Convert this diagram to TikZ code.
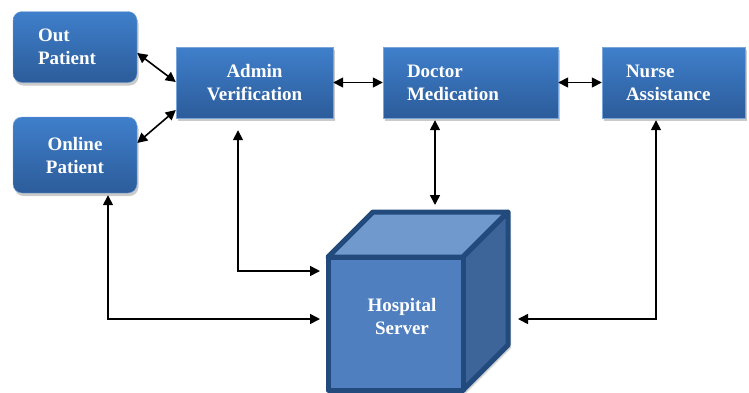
\documentclass[tikz,border=0pt]{standalone}
\usepackage{fontspec}
\setmainfont{Liberation Serif}
\usetikzlibrary{arrows.meta,shadows}
\definecolor{boxtop}{HTML}{3F7FCB}
\definecolor{boxbot}{HTML}{2C5C9A}
\definecolor{cubeedge}{HTML}{234A7C}
\definecolor{cubefront}{HTML}{4F7FBE}
\definecolor{cubetopc}{HTML}{7099CE}
\definecolor{cuberight}{HTML}{3E6599}
\tikzset{
  bluebox/.style={rectangle, top color=boxtop, bottom color=boxbot, draw=boxtop!70!white, line width=0.4pt,
    text=white, font=\fontsize{19}{23}\selectfont\bfseries, inner ysep=0pt,
    drop shadow={shadow xshift=1.5pt, shadow yshift=-3pt, opacity=0.35, fill=black!60}},
  patbox/.style={bluebox, rounded corners=9pt},
  arr/.style={line width=1.6pt, {Triangle[length=10pt,width=10pt]}-{Triangle[length=10pt,width=10pt]}},
  cubeface/.style={draw=cubeedge, line width=5pt, line join=round},
  servtext/.style={text=white, font=\fontsize{19}{23}\selectfont\bfseries, align=center}
}
\begin{document}
\begin{tikzpicture}[x=1pt,y=-1pt]
\useasboundingbox (0,0) rectangle (749,392);
% boxes
\node[patbox, minimum width=124pt, minimum height=71pt, text width=74pt, inner xsep=25pt, align=left] (outp) at (75,47) {Out\\Patient};
\node[patbox, minimum width=124pt, minimum height=76pt, text width=100pt, inner xsep=12pt, align=center] (onlp) at (75,155) {Online\\Patient};
\node[bluebox, minimum width=157pt, minimum height=71pt, text width=137pt, inner xsep=10pt, align=center] (admin) at (254.5,82.5) {Admin\\Verification};
\node[bluebox, minimum width=175pt, minimum height=71pt, text width=127pt, inner xsep=24pt, align=left] (doctor) at (470.5,82.5) {Doctor\\Medication};
\node[bluebox, minimum width=143pt, minimum height=71pt, text width=95pt, inner xsep=24pt, align=left] (nurse) at (673.5,82.5) {Nurse\\Assistance};
% cube
\coordinate (fTL) at (328,257);
\coordinate (fTR) at (463,257);
\coordinate (fBL) at (328,390);
\coordinate (fBR) at (463,390);
\coordinate (bTL) at (373,212);
\coordinate (bTR) at (508,212);
\coordinate (bBR) at (508,345);
\fill[black!35, opacity=0.5] ([xshift=3pt,yshift=-3pt]bTR) -- ([xshift=3pt,yshift=-3pt]bBR) -- ([xshift=3pt,yshift=-3pt]fBR) -- (fBR) -- (bBR) -- cycle;
\filldraw[cubeface, fill=cubetopc] (fTL) -- (bTL) -- (bTR) -- (fTR) -- cycle;
\filldraw[cubeface, fill=cuberight] (fTR) -- (bTR) -- (bBR) -- (fBR) -- cycle;
\filldraw[cubeface, fill=cubefront] (fTL) rectangle (fBR);
\node[servtext] (server) at (402,316) {Hospital\\Server};
\coordinate (cubeW) at (320,323.5);
\coordinate (cubeE) at (518,323.5);
\coordinate (cubeTop) at (435,205);
% connectors
\draw[arr] ([yshift=-6pt]outp.east) -- ([yshift=0.5pt]admin.west);
\draw[arr] ([yshift=12pt]onlp.east) -- ([yshift=-27.5pt]admin.west);
\draw[arr] (admin.east) -- (doctor.west);
\draw[arr] (doctor.east) -- (nurse.west);
\draw[arr] ([xshift=-35.5pt,yshift=-2pt]doctor.south) -- (cubeTop);
\draw[arr] ([xshift=-16.5pt,yshift=-12pt]admin.south) |- ([yshift=52.5pt]cubeW);
\draw[arr] ([xshift=33pt,yshift=-2pt]onlp.south) |- ([yshift=4.5pt]cubeW);
\draw[arr] ([xshift=-17.5pt,yshift=-2pt]nurse.south) |- ([yshift=4.5pt]cubeE);
\end{tikzpicture}
\end{document}
